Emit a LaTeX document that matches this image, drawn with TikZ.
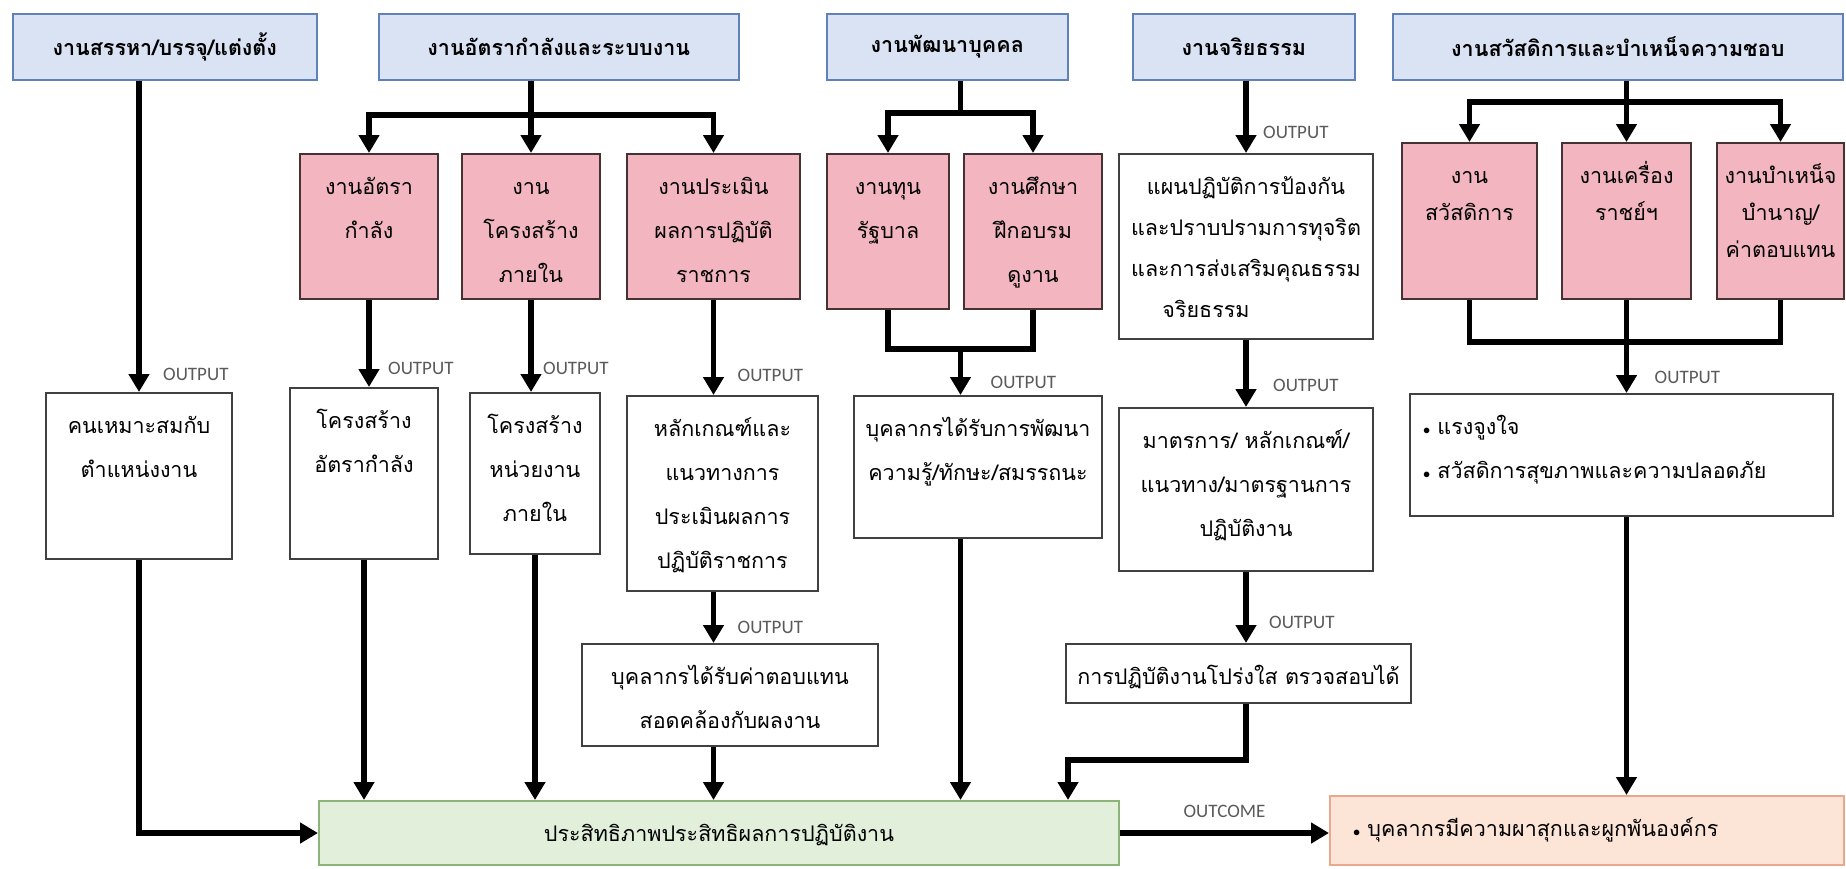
\documentclass[tikz,border=0pt]{standalone}
\usepackage{fontspec}
\setmainfont[Script=Thai]{Loma}
\newfontfamily\tagfont{Carlito}
\usetikzlibrary{arrows.meta,calc}

\definecolor{headfill}{RGB}{218,227,243}
\definecolor{headline}{RGB}{96,128,186}
\definecolor{taskfill}{RGB}{243,182,192}
\definecolor{taskline}{RGB}{70,50,50}
\definecolor{goalfill}{RGB}{226,239,218}
\definecolor{goalline}{RGB}{140,180,120}
\definecolor{endfill}{RGB}{252,228,214}
\definecolor{endline}{RGB}{236,168,140}
\definecolor{tagcolor}{RGB}{90,90,90}

\newcommand{\boxtext}[3]{\parbox[c][#2pt][t]{#1pt}{\centering\rule{0pt}{40pt}#3}}
\newcommand{\dotmark}{{\fontsize{15}{15}\selectfont$\bullet$}}

\begin{document}
\begin{tikzpicture}[x=1pt,y=-1pt,>={Triangle[width=20pt,length=18pt]},
    every node/.style={inner sep=0pt,anchor=north west,font=\fontsize{21.5}{44}\selectfont},
    head node/.style={draw=headline,fill=headfill,line width=1.5pt,align=center,minimum height=66pt,font=\fontsize{21.5}{44}\selectfont\bfseries},
    task node/.style={draw=taskline,fill=taskfill,line width=2pt},
    out node/.style={draw=black!75,fill=white,line width=2pt},
    goal node/.style={draw=goalline,fill=goalfill,line width=2pt},
    end node/.style={draw=endline,fill=endfill,line width=2pt},
    tag/.style={anchor=west,text=tagcolor,font=\tagfont\fontsize{19}{22}\selectfont},
    wire/.style={line width=5.5pt},
    flow/.style={wire,->}]

    \path[fill=white,use as bounding box] (0,0) rectangle (1846,868);

    \node[head node,minimum width=304pt] (h1) at (12,13) {งานสรรหา/บรรจุ/แต่งตั้ง};
    \node[head node,minimum width=360pt] (h2) at (378,13) {งานอัตรากำลังและระบบงาน};
    \node[head node,minimum width=241pt] (h3) at (826,13) {งานพัฒนาบุคคล};
    \node[head node,minimum width=222pt] (h4) at (1132,13) {งานจริยธรรม};
    \node[head node,minimum width=450pt] (h5) at (1392,13) {งานสวัสดิการและบำเหน็จความชอบ};

    \node[task node] (p1) at (299,153) {\boxtext{138}{145}{งานอัตรา\\กำลัง}};
    \node[task node] (p2) at (461,153) {\boxtext{138}{145}{งาน\\โครงสร้าง\\ภายใน}};
    \node[task node] (p3) at (626,153) {\boxtext{173}{145}{งานประเมิน\\ผลการปฏิบัติ\\ราชการ}};
    \node[task node] (p4) at (826,153) {\boxtext{122}{155}{งานทุน\\รัฐบาล}};
    \node[task node] (p5) at (963,153) {\boxtext{138}{155}{งานศึกษา\\ฝึกอบรม\\ดูงาน}};
    \node[task node,font=\fontsize{21.5}{37}\selectfont] (s1) at (1401,142) {\boxtext{135}{156}{งาน\\สวัสดิการ}};
    \node[task node,font=\fontsize{21.5}{37}\selectfont] (s2) at (1561,142) {\boxtext{129}{156}{งานเครื่อง\\ราชย์ฯ}};
    \node[task node,font=\fontsize{21.5}{37}\selectfont] (s3) at (1716,142) {\boxtext{127}{156}{งานบำเหน็จ\\บำนาญ/\\ค่าตอบแทน}};

    \node[out node] (b1) at (45,392) {\boxtext{186}{166}{คนเหมาะสมกับ\\ตำแหน่งงาน}};
    \node[out node] (b2) at (289,387) {\boxtext{148}{171}{โครงสร้าง\\อัตรากำลัง}};
    \node[out node] (b3) at (469,392) {\boxtext{130}{161}{โครงสร้าง\\หน่วยงาน\\ภายใน}};
    \node[out node] (b4) at (626,395) {\boxtext{191}{195}{หลักเกณฑ์และ\\แนวทางการ\\ประเมินผลการ\\ปฏิบัติราชการ}};
    \node[out node] (b5) at (581,643) {\boxtext{296}{102}{บุคลากรได้รับค่าตอบแทน\\สอดคล้องกับผลงาน}};
    \node[out node] (b6) at (853,395) {\boxtext{248}{142}{บุคลากรได้รับการพัฒนา\\ความรู้/ทักษะ/สมรรถนะ}};
    \node[out node,font=\fontsize{21.5}{41}\selectfont] (e1) at (1118,153) {\boxtext{254}{185}{แผนปฏิบัติการป้องกัน\\และปราบปรามการทุจริต\\และการส่งเสริมคุณธรรม\\จริยธรรม\hspace*{80pt}}};
    \node[out node] (e2) at (1118,407) {\boxtext{254}{163}{มาตรการ/ หลักเกณฑ์/\\แนวทาง/มาตรฐานการ\\ปฏิบัติงาน}};
    \node[out node] (e3) at (1065,643) {\boxtext{345}{59}{การปฏิบัติงานโปร่งใส ตรวจสอบได้}};
    \node[out node] (w1) at (1409,393) {\boxtext{423}{122}{\raggedright\hspace*{13pt}\dotmark\ แรงจูงใจ\\\hspace*{13pt}\dotmark\ สวัสดิการสุขภาพและความปลอดภัย}};

    \node[goal node] (g) at (318,800) {\boxtext{800}{64}{ประสิทธิภาพประสิทธิผลการปฏิบัติงาน}};
    \node[end node] (z) at (1329,795) {\boxtext{514}{69}{\raggedright\hspace*{23pt}\dotmark\ บุคลากรมีความผาสุกและผูกพันองค์กร}};

    \draw[flow] (b1.north |- h1.south) -- (b1.north);
    \draw[flow] (b1.south) |- (g.west);

    \coordinate (h2j) at ($(p2.north)+(0,-38)$);
    \draw[wire] (h2j |- h2.south) -- (h2j);
    \draw[flow] (h2j) -| (p1.north);
    \draw[flow] (h2j) -- (p2.north);
    \draw[flow] (h2j) -| (p3.north);
    \draw[flow] (p1.south) -- (p1.south |- b2.north);
    \draw[flow] (p2.south) -- (p2.south |- b3.north);
    \draw[flow] (p3.south) -- (p3.south |- b4.north);
    \draw[flow] (b4.south -| p3.south) -- (p3.south |- b5.north);
    \draw[flow] (b5.south -| p3.south) -- (p3.south |- g.north);
    \draw[flow] (b2.south) -- (b2.south |- g.north);
    \draw[flow] (b3.south) -- (b3.south |- g.north);

    \coordinate (h3j) at ($(p4.north)!.5!(p5.north)+(0,-40)$);
    \draw[wire] (h3j |- h3.south) -- (h3j);
    \draw[flow] (h3j) -| (p4.north);
    \draw[flow] (h3j) -| (p5.north);
    \coordinate (b6j) at ($(p4.south)!.5!(p5.south)+(0,39)$);
    \draw[wire] (p4.south) |- (b6j) -| (p5.south);
    \draw[flow] (b6j) -- (b6j |- b6.north);
    \draw[flow] (b6.south -| b6j) -- (b6j |- g.north);

    \draw[flow] (e1.north |- h4.south) -- (e1.north);
    \draw[flow] (e1.south) -- (e2.north);
    \draw[flow] (e2.south) -- (e2.south |- e3.north);
    \coordinate (gj) at ($(g.north east)+(-52,0)$);
    \draw[flow] (e3.south -| e2.south) -- ++(0,56) -| (gj);

    \coordinate (h5j) at ($(s2.north)+(0,-40)$);
    \draw[wire] (h5j |- h5.south) -- (h5j);
    \draw[flow] (h5j) -| (s1.north);
    \draw[flow] (h5j) -- (s2.north);
    \draw[flow] (h5j) -| (s3.north);
    \coordinate (w1j) at ($(s2.south)+(0,42)$);
    \draw[wire] (s1.south) |- (w1j) -| (s3.south);
    \draw[flow] (s2.south) -- (s2.south |- w1.north);
    \draw[flow] (w1.south -| s2.south) -- (s2.south |- z.north);

    \draw[flow] (g.east) -- (g.east -| z.west);

    \node[tag] (o1) at ($(b1.north)+(24,-18)$) {OUTPUT};
    \node[tag] (o2) at ($(p1.south |- b2.north)+(19,-19)$) {OUTPUT};
    \node[tag] (o3) at ($(p2.south |- b3.north)+(12,-24)$) {OUTPUT};
    \node[tag] (o4) at ($(p3.south |- b4.north)+(24,-20)$) {OUTPUT};
    \node[tag] (o5) at ($(p3.south |- b5.north)+(24,-16)$) {OUTPUT};
    \node[tag] (o6) at ($(b6j |- b6.north)+(30,-13)$) {OUTPUT};
    \node[tag] (o7) at ($(e1.north)+(17,-21)$) {OUTPUT};
    \node[tag] (o8) at ($(e2.north)+(27,-22)$) {OUTPUT};
    \node[tag] (o9) at ($(e2.south |- e3.north)+(23,-21)$) {OUTPUT};
    \node[tag] (o10) at ($(s2.south |- w1.north)+(28,-16)$) {OUTPUT};
    \node[tag,anchor=center] (oc) at ($(g.east)!.5!(g.east -| z.west)+(0,-22)$) {OUTCOME};
\end{tikzpicture}
\end{document}
